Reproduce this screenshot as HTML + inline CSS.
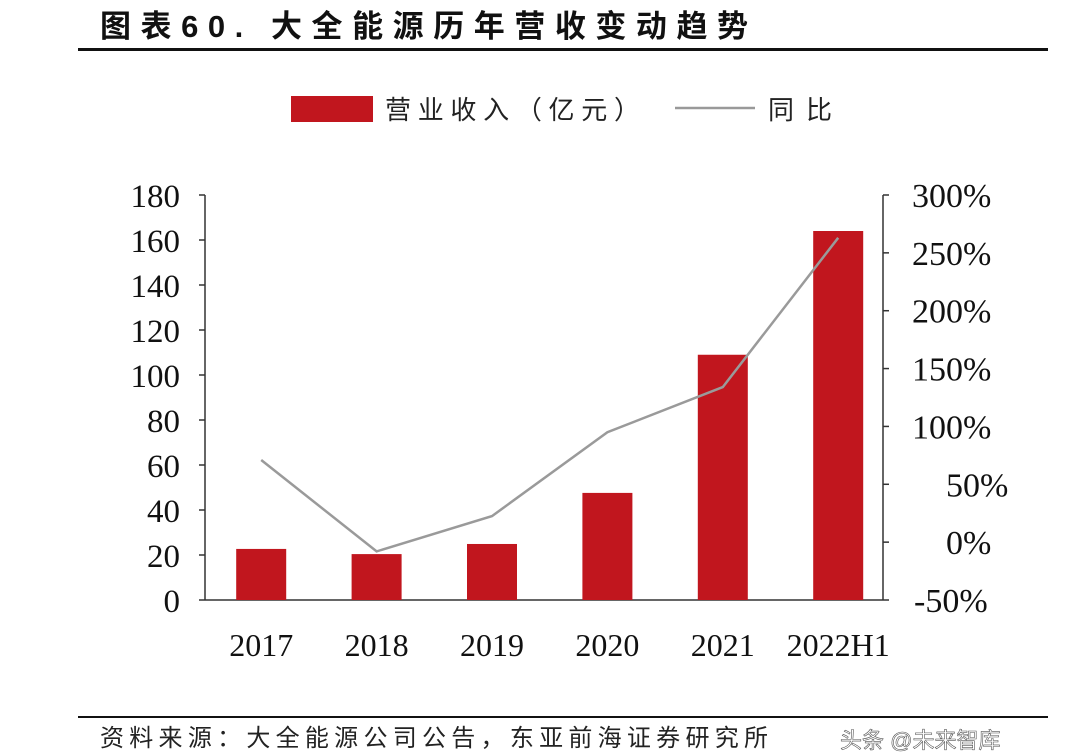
<!DOCTYPE html>
<html><head><meta charset="utf-8">
<style>
body{margin:0;width:1080px;height:756px;background:#fff;overflow:hidden;font-family:"Liberation Serif","Noto Serif CJK SC",serif;}
svg{display:block}
</style></head>
<body>
<svg width="1080" height="756" xmlns="http://www.w3.org/2000/svg">
<text x="100" y="37" font-size="31" font-weight="bold" font-family="Liberation Sans, Noto Sans CJK SC, sans-serif" fill="#111" textLength="648" lengthAdjust="spacing">图表60. 大全能源历年营收变动趋势</text>
<rect x="78" y="48" width="970" height="3" fill="#111"/>
<g>
<rect x="291" y="96" width="82" height="26" fill="#c1161e"/>
<text x="385" y="119" font-size="26" font-family="Liberation Sans, Noto Sans CJK SC, sans-serif" fill="#222" textLength="255" lengthAdjust="spacing">营业收入（亿元）</text>
<line x1="675" y1="108" x2="755" y2="108" stroke="#999" stroke-width="2.5"/>
<text x="768" y="119" font-size="26" font-family="Liberation Sans, Noto Sans CJK SC, sans-serif" fill="#222" textLength="64" lengthAdjust="spacing">同比</text>
</g>
<g id="plot"></g>
<rect x="78" y="716" width="970" height="2" fill="#111"/>
<text x="100" y="746" font-size="24" font-family="Liberation Sans, Noto Sans CJK SC, sans-serif" fill="#222" textLength="668" lengthAdjust="spacing">资料来源：大全能源公司公告，东亚前海证券研究所</text>
<text x="840" y="748" font-size="22" font-family="Liberation Sans, Noto Sans CJK SC, sans-serif" fill="#fff" stroke="#555" stroke-width="0.6">头条 @未来智库</text>
</svg>
<script>
const categories=["2017","2018","2019","2020","2021","2022H1"];
const revenue=[22.7,20.4,24.9,47.6,109,164];
const yoy=[71,-8,22.5,95,134,263];
const leftTicks=[0,20,40,60,80,100,120,140,160,180];
const rightTicks=[-50,0,50,100,150,200,250,300];
const NS="http://www.w3.org/2000/svg";
const g=document.getElementById("plot");
const y0=600,y1=195,xL=205,xR=883,bandStart=203.5,step=115.4,bw=50;
const yL=v=>y0-(v/180)*(y0-y1);
const yR=v=>y0-((v+50)/350)*(y0-y1);
const xC=i=>bandStart+step*(i+0.5);
function mk(t,a){const e=document.createElementNS(NS,t);for(const k in a)e.setAttribute(k,a[k]);g.appendChild(e);return e;}
let e;
e=mk("line",{x1:xL,y1:y1,x2:xL,y2:y0,stroke:"#333","stroke-width":1.5});


e=mk("line",{x1:xR,y1:y1,x2:xR,y2:y0,stroke:"#333","stroke-width":1.5});


e=mk("line",{x1:xL,y1:y0,x2:xR,y2:y0,stroke:"#333","stroke-width":1.5});


leftTicks.forEach(v=>{
 e=mk("line",{x1:xL-6,y1:yL(v),x2:xL,y2:yL(v),stroke:"#333","stroke-width":1.5});
 
 
 e=mk("text",{x:xL-25,y:yL(v)+12,"font-size":33,"text-anchor":"end",fill:"#111"});
 e.textContent=v;
 
 
});
rightTicks.forEach(v=>{
 e=mk("line",{x1:xR,y1:yR(v),x2:xR+6,y2:yR(v),stroke:"#333","stroke-width":1.5});
 
 
 e=mk("text",{x:v<0?914:(v<100?946:912),y:yR(v)+12,"font-size":34,fill:"#111"});
 e.textContent=v+"%";
 
 
});
categories.forEach((c,i)=>{
 e=mk("rect",{x:xC(i)-bw/2,y:yL(revenue[i]),width:bw,height:y0-yL(revenue[i]),fill:"#c1161e"});
 
 
 e=mk("text",{x:xC(i),y:656,"font-size":32,"text-anchor":"middle",fill:"#111"});
 e.textContent=c;
 
 
});
e=mk("polyline",{points:yoy.map((v,i)=>xC(i)+","+yR(v)).join(" "),fill:"none",stroke:"#9a9a9a","stroke-width":2.5});


</script>
</body></html>
